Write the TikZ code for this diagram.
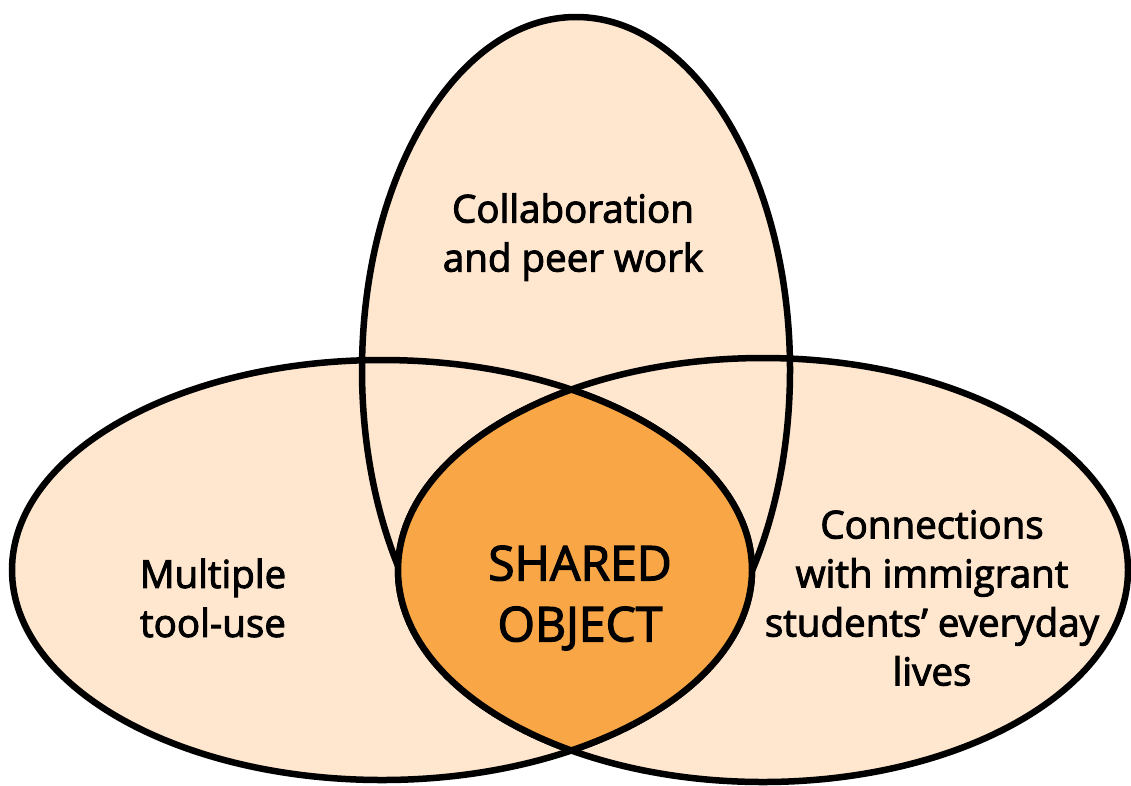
\documentclass[tikz,border=0pt]{standalone}
\usepackage{fontspec}
\setmainfont{Open Sans}
\newfontfamily\lblfont{Open Sans}[FakeBold=2.6]
\definecolor{peach}{HTML}{FEE6CF}
\definecolor{lensorange}{HTML}{F8A646}
\begin{document}
\begin{tikzpicture}[x=1pt,y=-1pt,
  outline/.style={line width=6.5pt,draw=black},
  lbl/.style={align=center,font=\lblfont\fontsize{38.5}{49}\selectfont,inner sep=0pt},
  biglbl/.style={align=center,font=\lblfont\fontsize{48}{61}\selectfont,inner sep=0pt}]
\useasboundingbox (0,0) rectangle (1131,785);
\def\topE{(576,370) ellipse [x radius=214pt, y radius=353pt]}
\def\leftE{(382,570) ellipse [x radius=370pt, y radius=210pt]}
\def\rightE{(763,570) ellipse [x radius=365pt, y radius=212pt]}
% fills
\fill[peach] \leftE;
\fill[peach] \rightE;
\fill[peach] \topE;
% outlines
\draw[outline] \leftE;
\draw[outline] \rightE;
\draw[outline] \topE;
% lens (shared object)
\begin{scope}
  \clip \leftE;
  \fill[lensorange] \rightE;
  \draw[outline] \rightE;
\end{scope}
\begin{scope}
  \clip \rightE;
  \draw[outline] \leftE;
\end{scope}
% labels
\node[lbl] (collab) at (573,237) {Collaboration\\and peer work};
\node[lbl] (tool) at (213,598) {Multiple\\tool-use};
\node[lbl] (conn) at (932,598) {Connections\\with immigrant\\students’ everyday\\lives};
\node[biglbl] (shared) at (580,598) {SHARED\\OBJECT};
\end{tikzpicture}
\end{document}
